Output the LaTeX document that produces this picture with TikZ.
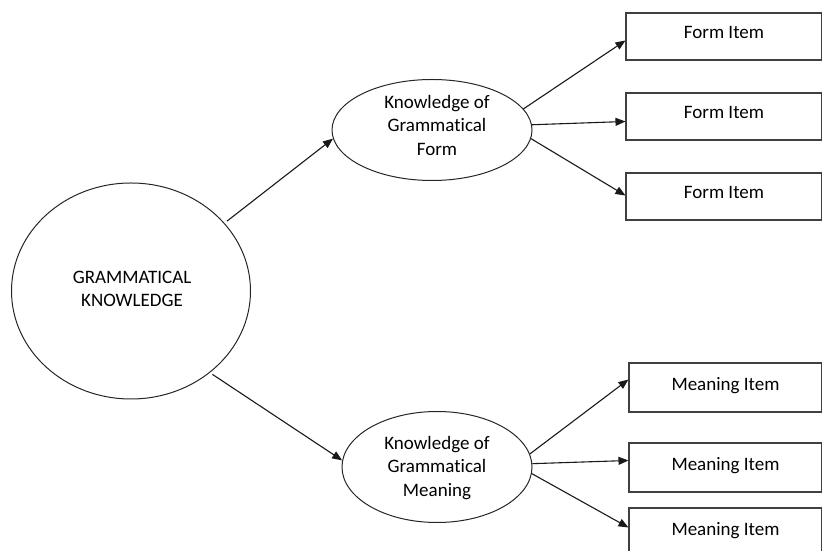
\documentclass[tikz,border=0pt]{standalone}
\usepackage{fontspec}
\setmainfont[Ligatures={NoCommon,NoContextual}]{Carlito}
\usetikzlibrary{arrows.meta,shapes.geometric}
\begin{document}
\begin{tikzpicture}[x=1pt,y=1pt,
  every node/.style={font=\fontsize{19}{23.5}\selectfont, text=black},
  oval/.style={draw=black!85, line width=1pt, ellipse, inner sep=0pt},
  item/.style={draw=black!75, line width=1.1pt, rectangle, inner sep=0pt, text depth=8pt},
  lbl/.style={align=center, inner sep=0pt},
  arr/.style={draw=black!90, line width=1.1pt, -{Triangle[length=10pt,width=8pt]}}
]
\useasboundingbox (0,0) rectangle (822,551);
\clip (0,0) rectangle (822,551);
% ellipses (y = 551 - pixel y)
\node[oval, minimum width=239pt, minimum height=216pt] (gk) at (131,260) {};
\node[lbl] (gkt) at (132,262) {GRAMMATICAL\\KNOWLEDGE};
\node[oval, minimum width=200pt, minimum height=101pt] (kf) at (432,421) {};
\node[lbl] (kft) at (437,426) {Knowledge of\\Grammatical\\Form};
\node[oval, minimum width=190pt, minimum height=111pt] (km) at (437,84) {};
\node[lbl] (kmt) at (437,83) {Knowledge of\\Grammatical\\Meaning};
% boxes
\node[item, minimum width=196pt, minimum height=47pt] (f1) at (724,514.5) {Form Item};
\node[item, minimum width=196pt, minimum height=47pt] (f2) at (724,434.5) {Form Item};
\node[item, minimum width=196pt, minimum height=47pt] (f3) at (724,354.5) {Form Item};
\node[item, minimum width=193pt, minimum height=49pt] (m1) at (725.5,163.5) {Meaning Item};
\node[item, minimum width=193pt, minimum height=49pt] (m2) at (725.5,83.5) {Meaning Item};
\node[item, minimum width=193pt, minimum height=49pt] (m3) at (725.5,18.5) {Meaning Item};
% connectors
\draw[arr, shorten <=3pt] (gk.36) -- (kf.185);
\draw[arr, shorten <=3pt] (gk.-46) -- (km.176);
\draw[arr] (kf.13) -- ([yshift=-4pt]f1.west);
\draw[arr] (kf.3) -- ([yshift=-5pt]f2.west);
\draw[arr] (kf.-5) -- ([yshift=1pt]f3.west);
\draw[arr] (km.8) -- ([yshift=8pt]m1.west);
\draw[arr] (km.2) -- ([yshift=7pt]m2.west);
\draw[arr] (km.-4) -- ([yshift=5pt]m3.west);
\end{tikzpicture}
\end{document}
